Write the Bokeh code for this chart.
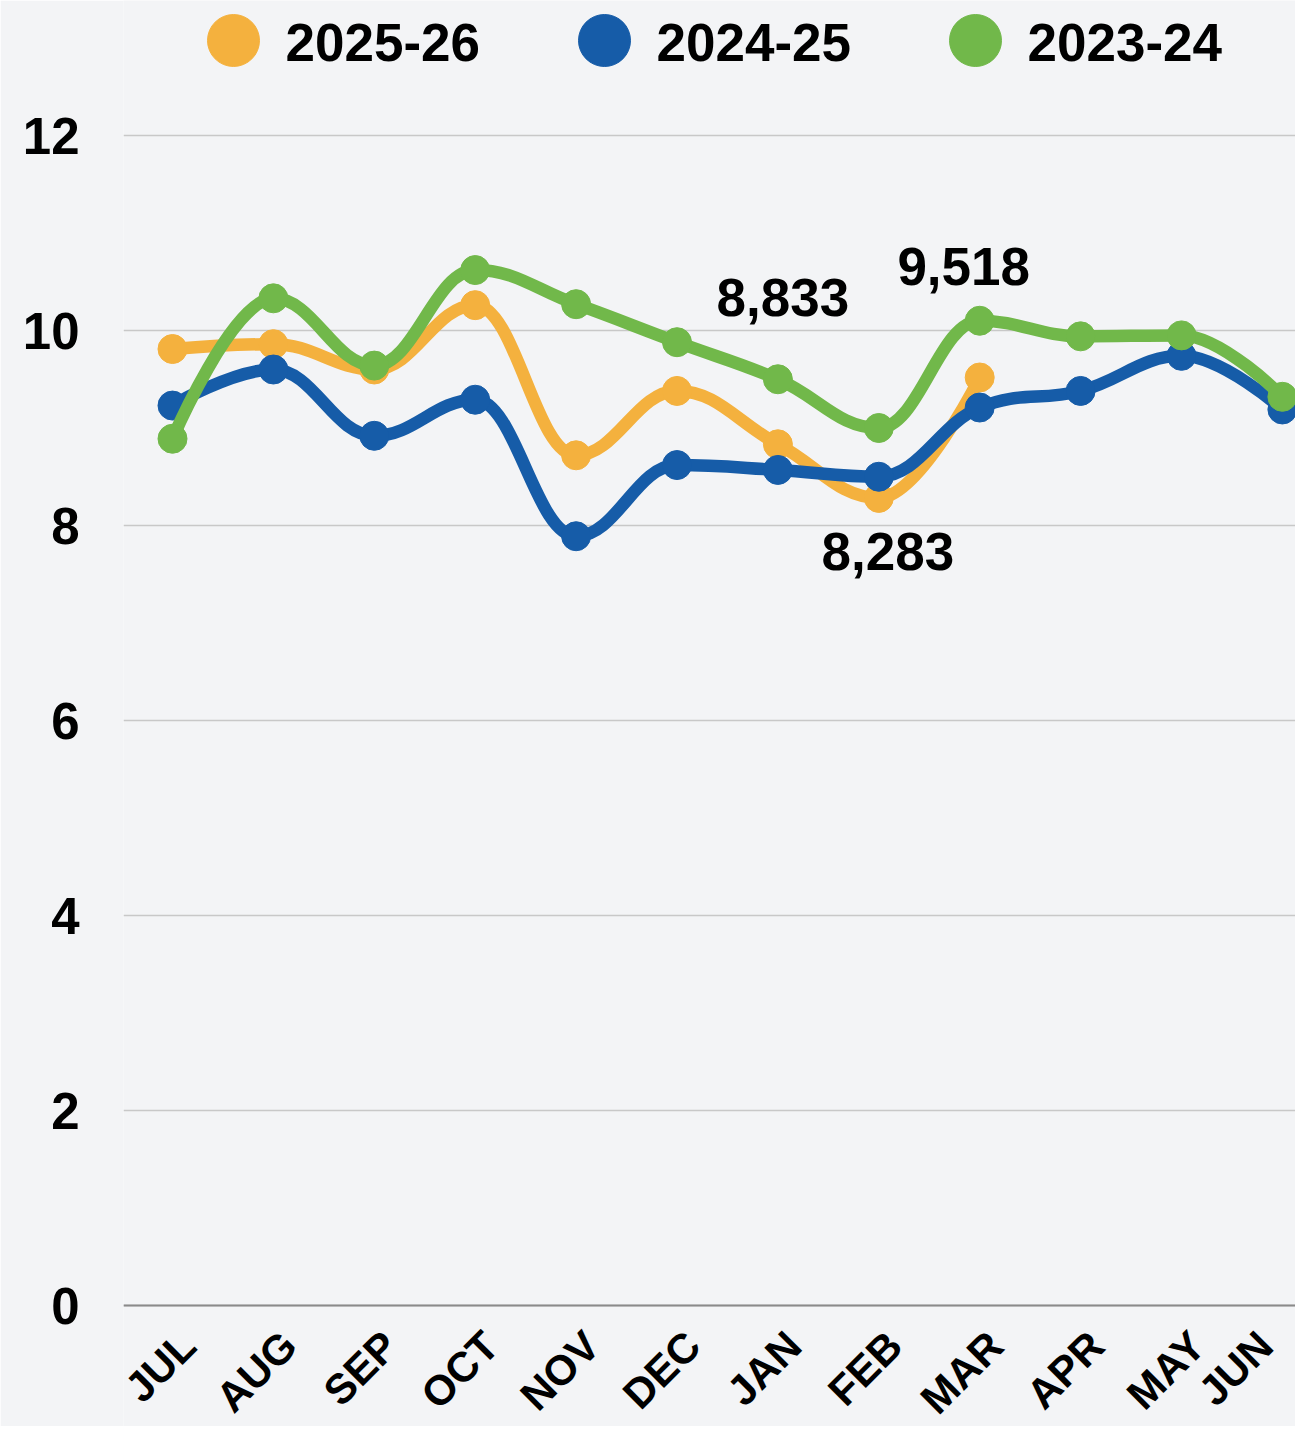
import math
from bokeh.plotting import figure
from bokeh.models import FixedTicker, Range1d, Span
from bokeh.core.properties import value
from bokeh.embed import file_html
from bokeh.resources import INLINE

# ---------------- data ----------------
months = ["JUL", "AUG", "SEP", "OCT", "NOV", "DEC", "JAN", "FEB", "MAR", "APR", "MAY", "JUN"]
fy_2025_26 = [9.81, 9.86, 9.60, 10.26, 8.72, 9.38, 8.833, 8.283, 9.518]
fy_2024_25 = [9.23, 9.60, 8.92, 9.29, 7.89, 8.62, 8.57, 8.50, 9.21, 9.38, 9.74, 9.19]
fy_2023_24 = [8.89, 10.33, 9.64, 10.62, 10.27, 9.88, 9.50, 9.00, 10.10, 9.94, 9.95, 9.32]
series_names = ["2025-26", "2024-25", "2023-24"]
series_colors = ["#F4B13E", "#165CA8", "#71B84A"]
y_ticks = [0, 2, 4, 6, 8, 10, 12]
labelled_months = ["JAN", "FEB", "MAR"]   # data labels on 2025-26

# ---------------- layout ----------------
BG = "#F3F4F6"
FONT = "Liberation Sans"
W, H = 1295, 1426
FRAME_LEFT, ZERO_PX = 123, 1305               # screen px
X0_PX, PX_PER_X = 172, 100.9                  # screen px of first month, px per month
PX_PER_Y = 97.5
X_START = (FRAME_LEFT - X0_PX) / PX_PER_X
X_END = (W - X0_PX) / PX_PER_X
Y_START, Y_END = (ZERO_PX - H) / PX_PER_Y, ZERO_PX / PX_PER_Y


def spline_segments(ys, smoothing=1.5):
    n = len(ys)
    xs = list(range(n))
    left = [None] * n
    right = [None] * n
    for i in range(n):
        x, y = xs[i], ys[i]
        if i == 0 or i == n - 1:
            left[i] = (x, y)
            right[i] = (x, y)
            continue
        lx, ly = xs[i - 1], ys[i - 1]
        nx, ny = xs[i + 1], ys[i + 1]
        d = smoothing + 1
        lcx, lcy = (smoothing * x + lx) / d, (smoothing * y + ly) / d
        rcx, rcy = (smoothing * x + nx) / d, (smoothing * y + ny) / d
        corr = ((rcy - lcy) * (rcx - x)) / (rcx - lcx) + y - rcy
        lcy += corr
        rcy += corr
        if lcy > ly and lcy > y:
            lcy = max(ly, y); rcy = 2 * y - lcy
        elif lcy < ly and lcy < y:
            lcy = min(ly, y); rcy = 2 * y - lcy
        if rcy > ny and rcy > y:
            rcy = max(ny, y); lcy = 2 * y - rcy
        elif rcy < ny and rcy < y:
            rcy = min(ny, y); lcy = 2 * y - rcy
        left[i] = (lcx, lcy)
        right[i] = (rcx, rcy)
    seg = dict(x0=[], y0=[], x1=[], y1=[], cx0=[], cy0=[], cx1=[], cy1=[])
    for i in range(n - 1):
        seg["x0"].append(xs[i]); seg["y0"].append(ys[i])
        seg["x1"].append(xs[i + 1]); seg["y1"].append(ys[i + 1])
        seg["cx0"].append(right[i][0]); seg["cy0"].append(right[i][1])
        seg["cx1"].append(left[i + 1][0]); seg["cy1"].append(left[i + 1][1])
    return seg


p = figure(width=W, height=H, output_backend="svg", toolbar_location=None,
           x_range=Range1d(X_START, X_END), y_range=Range1d(Y_START, Y_END),
           min_border_left=FRAME_LEFT, min_border_right=0, min_border_top=0,
           min_border_bottom=0,
           background_fill_color=BG, border_fill_color=BG, outline_line_color=None)

# grid & axes
p.xgrid.grid_line_color = None
p.ygrid.grid_line_color = "#C8C8C8"
p.ygrid.grid_line_width = 1.5
p.xaxis.visible = False
p.yaxis.ticker = FixedTicker(ticks=y_ticks)
p.yaxis.axis_line_color = None
p.yaxis.major_tick_line_color = None
p.yaxis.minor_tick_line_color = None
p.yaxis.major_label_text_font = FONT
p.yaxis.major_label_text_font_style = "bold"
p.yaxis.major_label_text_color = "#000000"
p.yaxis.major_label_text_font_size = "51px"
p.yaxis.major_label_standoff = 38

# baseline at zero
p.add_layout(Span(location=0, dimension="width", line_color="#8A8A8A", line_width=2))

# month labels along the zero line (rotated 45 degrees)
month_dx = [16] * (len(months) - 1) + [-17]
p.text(x=list(range(len(months))), y=[0] * len(months), text=months,
       angle=math.pi / 4, x_offset=month_dx, y_offset=33,
       text_align="right", text_baseline="middle", text_font=value(FONT),
       text_font_style="bold", text_font_size="42px", text_color="#000000")

# series (bottom to top: 2025-26, 2024-25, 2023-24)
for name, ys, col in zip(series_names, [fy_2025_26, fy_2024_25, fy_2023_24], series_colors):
    seg = spline_segments(ys)
    p.bezier(x0="x0", y0="y0", x1="x1", y1="y1", cx0="cx0", cy0="cy0", cx1="cx1", cy1="cy1",
             source=seg, line_color=col, line_width=12.5, line_cap="round")
    p.scatter(x=list(range(len(ys))), y=ys, size=29, fill_color=col, line_color=col)

# data labels on 2025-26
lab_idx = [months.index(m) for m in labelled_months]
lab_vals = [fy_2025_26[i] for i in lab_idx]
lab_text = [f"{round(v * 1000):,}" for v in lab_vals]
lab_dx = [5, 9, -16]
lab_dy = [-147, 54, -111]
p.text(x=lab_idx, y=lab_vals, text=lab_text, x_offset=lab_dx, y_offset=lab_dy,
       text_align="center", text_baseline="middle", text_font=value(FONT),
       text_font_style="bold", text_font_size="53px", text_color="#000000")

# legend (top, drawn in plot coordinates above the grid)
leg_px = [233, 604, 975]
leg_py = 40
leg_x = [(px - X0_PX) / PX_PER_X for px in leg_px]
leg_y = [(ZERO_PX - leg_py) / PX_PER_Y] * len(leg_px)
p.scatter(x=leg_x, y=leg_y, size=52, fill_color=series_colors, line_color=series_colors)
p.text(x=leg_x, y=leg_y, text=series_names, x_offset=52, y_offset=2,
       text_align="left", text_baseline="middle", text_font=value(FONT),
       text_font_style="bold", text_font_size="53px", text_color="#000000")

open("out.html", "w").write(file_html(p, INLINE))
